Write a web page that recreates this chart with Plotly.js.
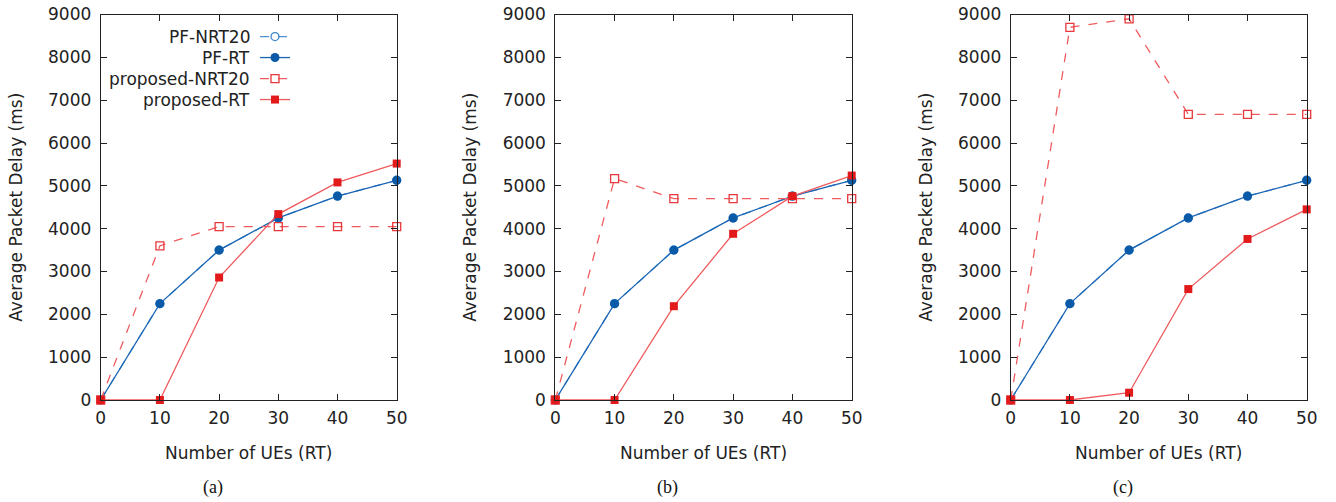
<!DOCTYPE html>
<html>
<head>
<meta charset="utf-8">
<script src="https://cdn.plot.ly/plotly-3.0.1.min.js"></script>
<style>html,body{margin:0;padding:0;background:#fff}#chart{width:1336px;height:502px}</style>
</head>
<body>
<div id="chart"></div>
<script>
// ---- data ----
const numUEs = [0, 10, 20, 30, 40, 50];
const seriesNames = ["PF-NRT20", "PF-RT", "proposed-NRT20", "proposed-RT"];
const panelLabels = ["(a)", "(b)", "(c)"];
const xTitle = "Number of UEs (RT)";
const yTitle = "Average Packet Delay (ms)";

const pfNRT20_a = [0, 2250, 3500, 4250, 4760, 5130];
const pfRT_a = [0, 2250, 3500, 4250, 4760, 5130];
const propNRT20_a = [0, 3600, 4050, 4050, 4050, 4050];
const propRT_a = [0, 0, 2860, 4340, 5080, 5520];

const pfNRT20_b = [0, 2250, 3500, 4250, 4760, 5130];
const pfRT_b = [0, 2250, 3500, 4250, 4760, 5130];
const propNRT20_b = [0, 5170, 4700, 4700, 4700, 4700];
const propRT_b = [0, 0, 2190, 3880, 4760, 5240];

const pfNRT20_c = [0, 2250, 3500, 4250, 4760, 5130];
const pfRT_c = [0, 2250, 3500, 4250, 4760, 5130];
const propNRT20_c = [0, 8700, 8900, 6670, 6670, 6670];
const propRT_c = [0, 0, 170, 2590, 3760, 4450];

const panels = [
  [pfNRT20_a, pfRT_a, propNRT20_a, propRT_a],
  [pfNRT20_b, pfRT_b, propNRT20_b, propRT_b],
  [pfNRT20_c, pfRT_c, propNRT20_c, propRT_c]
];

// ---- styles ----
const W = 1336, H = 502;
const styles = [
  {line: {color: "#4f93d2", width: 1.3, dash: "dash"}, marker: {symbol: "circle-open", size: 8, color: "#3b86cc", line: {width: 1.3}}},
  {line: {color: "#1a66b5", width: 1.3}, marker: {symbol: "circle", size: 9, color: "#0b5aa8"}},
  {line: {color: "#ef5b5e", width: 1.3, dash: "dash"}, marker: {symbol: "square-open", size: 8, color: "#e8383b", line: {width: 1.3}}},
  {line: {color: "#ef5b5e", width: 1.3}, marker: {symbol: "square", size: 8, color: "#e31a1c"}}
];
const xDomains = [[100.7 / W, 396.7 / W], [555.3 / W, 851.7 / W], [1010.7 / W, 1306.7 / W]];
const yDomain = [(H - 400) / H, (H - 14.5) / H];
const legendNames = ["legend", "legend2", "legend3", "legend4"];

const font = {family: "DejaVu Sans", size: 17, color: "#222"};
const traces = [];
const layout = {
  width: W, height: H,
  margin: {l: 0, r: 0, t: 0, b: 0},
  paper_bgcolor: "#fff", plot_bgcolor: "#fff",
  font: font,
  showlegend: true,
  annotations: []
};

// one single-entry legend per series, stacked like the gnuplot key
legendNames.forEach((ln, i) => {
  layout[ln] = {
    x: 255 / W, y: (H - (37 + 21 * i)) / H, xanchor: "left", yanchor: "middle",
    bgcolor: "rgba(0,0,0,0)", font: font, itemwidth: 30
  };
});

panels.forEach((series, p) => {
  const xa = p === 0 ? "x" : "x" + (p + 1);
  const ya = p === 0 ? "y" : "y" + (p + 1);
  series.forEach((vals, s) => {
    traces.push({
      type: "scatter", mode: "lines+markers",
      x: numUEs, y: vals,
      xaxis: xa, yaxis: ya,
      name: p === 0 ? "" : seriesNames[s],
      showlegend: p === 0,
      legend: legendNames[s],
      cliponaxis: false,
      line: styles[s].line, marker: styles[s].marker
    });
  });
  const axCommon = {
    showline: true, linecolor: "#222", linewidth: 1, mirror: "ticks",
    ticks: "inside", ticklen: 6, tickcolor: "#222", tickwidth: 1,
    showgrid: false, zeroline: false, tickfont: font
  };
  layout[p === 0 ? "xaxis" : "xaxis" + (p + 1)] = Object.assign({}, axCommon, {
    domain: xDomains[p], anchor: ya, range: [0, 50], tickvals: numUEs, ticklabelstandoff: 3,
    title: {text: xTitle, font: font, standoff: 19}
  });
  layout[p === 0 ? "yaxis" : "yaxis" + (p + 1)] = Object.assign({}, axCommon, {
    domain: yDomain, anchor: xa, range: [0, 9000], dtick: 1000, ticklabelstandoff: 5,
    title: {text: yTitle, font: font, standoff: 21}
  });
  layout.annotations.push({
    xref: "paper", yref: "paper",
    x: (xDomains[p][0] + xDomains[p][1]) / 2 - 36 / W, y: (H - 487) / H,
    xanchor: "center", yanchor: "middle", showarrow: false,
    text: panelLabels[p], font: {family: "Liberation Serif", size: 18, color: "#111"}
  });
});

// key labels, right-aligned to the left of the samples (gnuplot style)
seriesNames.forEach((n, i) => {
  layout.annotations.push({
    xref: "paper", yref: "paper", x: 252 / W, y: (H - (37 + 21 * i)) / H,
    xanchor: "right", yanchor: "middle", showarrow: false,
    text: n, font: font
  });
});

Plotly.newPlot("chart", traces, layout, {displayModeBar: false, staticPlot: true});
</script>
</body>
</html>
